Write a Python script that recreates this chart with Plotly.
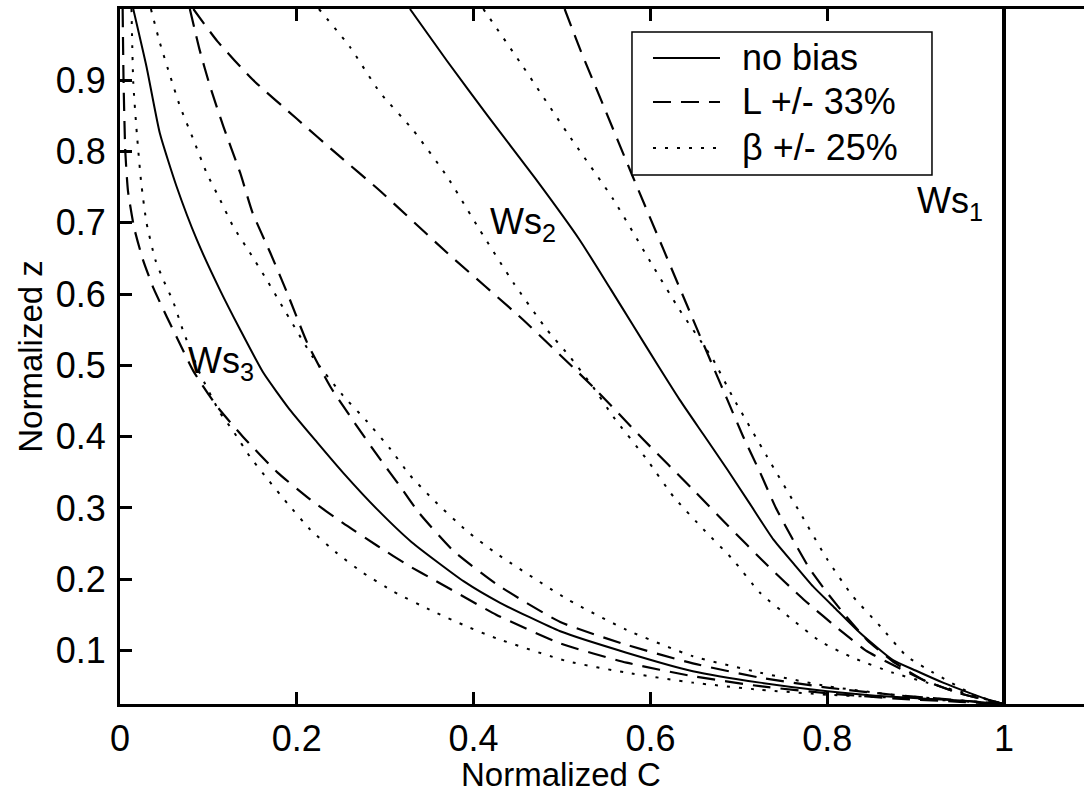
import plotly.graph_objects as go

# ---------------- data ----------------
# Ws1 : all variants coincide on C = 1
ws1_c = [1.0, 1.0]
ws1_z = [0.025, 1.0]

# Ws2
ws2_nobias_c = [0.328, 0.37, 0.416, 0.47, 0.52, 0.555, 0.58, 0.61, 0.633, 0.66, 0.687, 0.713, 0.739, 0.762, 0.784, 0.81, 0.837, 0.874, 0.90, 0.931, 0.96, 0.98, 1.0]
ws2_nobias_z = [1.0, 0.927, 0.85, 0.762, 0.676, 0.607, 0.557, 0.497, 0.452, 0.403, 0.354, 0.305, 0.256, 0.222, 0.19, 0.158, 0.125, 0.087, 0.072, 0.055, 0.041, 0.032, 0.025]

ws2_Lp_c = [0.503, 0.52, 0.545, 0.580, 0.615, 0.648, 0.671, 0.687, 0.705, 0.724, 0.742, 0.761, 0.780, 0.800, 0.82, 0.845, 0.874, 0.91, 0.95, 1.0]
ws2_Lp_z = [1.0, 0.945, 0.87, 0.765, 0.662, 0.565, 0.498, 0.452, 0.40, 0.350, 0.30, 0.256, 0.215, 0.181, 0.150, 0.115, 0.085, 0.058, 0.040, 0.025]

ws2_Lm_c = [0.083, 0.110, 0.150, 0.200, 0.245, 0.294, 0.370, 0.456, 0.535, 0.592, 0.648, 0.687, 0.732, 0.773, 0.818, 0.845, 0.874, 0.91, 0.95, 1.0]
ws2_Lm_z = [1.0, 0.955, 0.901, 0.846, 0.797, 0.745, 0.658, 0.564, 0.470, 0.396, 0.326, 0.276, 0.220, 0.172, 0.125, 0.099, 0.080, 0.058, 0.040, 0.025]

ws2_bp_c = [0.411, 0.456, 0.506, 0.558, 0.603, 0.633, 0.671, 0.693, 0.732, 0.769, 0.800, 0.829, 0.860, 0.890, 0.920, 0.969, 1.0]
ws2_bp_z = [1.0, 0.919, 0.826, 0.733, 0.639, 0.578, 0.508, 0.456, 0.372, 0.294, 0.228, 0.176, 0.134, 0.092, 0.069, 0.036, 0.025]

ws2_bm_c = [0.225, 0.260, 0.294, 0.331, 0.370, 0.407, 0.445, 0.483, 0.509, 0.535, 0.558, 0.596, 0.626, 0.660, 0.693, 0.724, 0.761, 0.792, 0.829, 0.874, 0.913, 0.969, 1.0]
ws2_bm_z = [1.0, 0.947, 0.883, 0.831, 0.765, 0.690, 0.616, 0.550, 0.512, 0.470, 0.428, 0.368, 0.316, 0.270, 0.228, 0.181, 0.143, 0.113, 0.090, 0.069, 0.055, 0.036, 0.025]

# Ws3
ws3_nobias_c = [0.015, 0.030, 0.045, 0.064, 0.087, 0.113, 0.136, 0.162, 0.192, 0.223, 0.252, 0.291, 0.33, 0.389, 0.43, 0.498, 0.573, 0.648, 0.724, 0.800, 0.874, 0.950, 1.0]
ws3_nobias_z = [1.0, 0.919, 0.826, 0.751, 0.676, 0.606, 0.550, 0.490, 0.438, 0.392, 0.350, 0.298, 0.252, 0.197, 0.167, 0.127, 0.097, 0.071, 0.055, 0.043, 0.035, 0.030, 0.025]

ws3_Lp_c = [0.079, 0.090, 0.102, 0.117, 0.136, 0.150, 0.170, 0.189, 0.212, 0.238, 0.264, 0.291, 0.317, 0.339, 0.377, 0.426, 0.498, 0.573, 0.648, 0.724, 0.800, 0.874, 0.950, 1.0]
ws3_Lp_z = [1.0, 0.943, 0.891, 0.835, 0.770, 0.714, 0.658, 0.602, 0.531, 0.470, 0.422, 0.374, 0.330, 0.292, 0.240, 0.193, 0.140, 0.108, 0.082, 0.062, 0.048, 0.038, 0.030, 0.025]

ws3_Lm_c = [0.003, 0.004, 0.006, 0.009, 0.016, 0.026, 0.038, 0.053, 0.064, 0.083, 0.110, 0.139, 0.178, 0.215, 0.252, 0.291, 0.328, 0.354, 0.426, 0.498, 0.573, 0.648, 0.724, 0.800, 0.874, 0.950, 1.0]
ws3_Lm_z = [1.0, 0.9, 0.8, 0.745, 0.693, 0.648, 0.608, 0.568, 0.540, 0.492, 0.442, 0.400, 0.350, 0.312, 0.279, 0.247, 0.218, 0.200, 0.150, 0.110, 0.083, 0.064, 0.050, 0.040, 0.033, 0.028, 0.025]

ws3_bp_c = [0.035, 0.045, 0.057, 0.068, 0.083, 0.098, 0.113, 0.128, 0.147, 0.166, 0.184, 0.218, 0.252, 0.279, 0.305, 0.328, 0.354, 0.392, 0.426, 0.506, 0.573, 0.648, 0.724, 0.800, 0.874, 0.950, 1.0]
ws3_bp_z = [1.0, 0.953, 0.905, 0.863, 0.817, 0.770, 0.733, 0.695, 0.658, 0.620, 0.582, 0.512, 0.458, 0.422, 0.384, 0.346, 0.312, 0.268, 0.236, 0.172, 0.129, 0.092, 0.069, 0.050, 0.038, 0.030, 0.025]

ws3_bm_c = [0.013, 0.015, 0.019, 0.024, 0.030, 0.040, 0.049, 0.060, 0.071, 0.090, 0.113, 0.128, 0.147, 0.166, 0.189, 0.215, 0.245, 0.275, 0.309, 0.354, 0.392, 0.426, 0.506, 0.573, 0.648, 0.724, 0.800, 0.874, 0.950, 1.0]
ws3_bm_z = [1.0, 0.897, 0.826, 0.756, 0.700, 0.648, 0.620, 0.590, 0.550, 0.490, 0.434, 0.408, 0.372, 0.342, 0.307, 0.270, 0.237, 0.209, 0.183, 0.155, 0.134, 0.117, 0.085, 0.069, 0.055, 0.045, 0.038, 0.034, 0.029, 0.025]

legend_names = ["no bias", "L +/- 33%", "\u03b2 +/- 25%"]
legend_styles = ["solid", "dash", "dot"]
x_ticks = [0, 0.2, 0.4, 0.6, 0.8, 1]
x_ticklabels = ["0", "0.2", "0.4", "0.6", "0.8", "1"]
y_ticks = [0.1, 0.2, 0.3, 0.4, 0.5, 0.6, 0.7, 0.8, 0.9]
y_ticklabels = ["0.1", "0.2", "0.3", "0.4", "0.5", "0.6", "0.7", "0.8", "0.9"]
x_title = "Normalized C"
y_title = "Normalized z"

labels = [("Ws<sub>1</sub>", 0.899, 0.728), ("Ws<sub>2</sub>", 0.4165, 0.699), ("Ws<sub>3</sub>", 0.075, 0.503)]

# ---------------- figure ----------------
FONT = "Liberation Sans, Arial, Helvetica, sans-serif"
styles = {
    "solid": dict(color="black", width=2, dash="solid", shape="spline", smoothing=0.5),
    "dash": dict(color="black", width=2.2, dash="18px,10px", shape="spline", smoothing=0.5),
    "dot": dict(color="black", width=2, dash="3px,9px", shape="spline", smoothing=0.5),
}
style_of = dict(zip(legend_names, legend_styles))

fig = go.Figure()

def add(c, z, name, width=None):
    line = dict(styles[style_of[name]])
    if width is not None:
        line["width"] = width
    fig.add_trace(go.Scatter(x=c, y=z, mode="lines", line=line, name=name,
                             legendgroup=name, showlegend=False, hoverinfo="skip"))

add(ws2_nobias_c, ws2_nobias_z, legend_names[0])
add(ws2_Lp_c, ws2_Lp_z, legend_names[1])
add(ws2_bp_c, ws2_bp_z, legend_names[2])
add(ws2_Lm_c, ws2_Lm_z, legend_names[1])
add(ws2_bm_c, ws2_bm_z, legend_names[2])
add(ws3_nobias_c, ws3_nobias_z, legend_names[0])
add(ws3_Lp_c, ws3_Lp_z, legend_names[1])
add(ws3_Lm_c, ws3_Lm_z, legend_names[1])
add(ws3_bp_c, ws3_bp_z, legend_names[2])
add(ws3_bm_c, ws3_bm_z, legend_names[2])
add(ws1_c, ws1_z, legend_names[1])
add(ws1_c, ws1_z, legend_names[2])
add(ws1_c, ws1_z, legend_names[0], width=4)

for txt, xc, yc in labels:
    fig.add_annotation(x=xc, y=yc, xref="x", yref="y", text=txt, showarrow=False,
                       xanchor="left", yanchor="middle", font=dict(family=FONT, size=36, color="black"))

# legend box (MATLAB style: sample line + text inside a framed box), paper coordinates
LEG_X0, LEG_X1, LEG_Y0, LEG_Y1 = 0.5311, 0.8423, 0.7612, 0.9669
LEG_ROWS = [0.9295, 0.8662, 0.8000]
LEG_LINE_X0, LEG_LINE_X1, LEG_TEXT_X = 0.5529, 0.6224, 0.6432
fig.add_shape(type="rect", xref="paper", yref="paper", x0=LEG_X0, x1=LEG_X1, y0=LEG_Y0, y1=LEG_Y1,
              line=dict(color="black", width=1.5), fillcolor="white", layer="above")
for name, ry in zip(legend_names, LEG_ROWS):
    st = styles[style_of[name]]
    fig.add_shape(type="line", xref="paper", yref="paper", x0=LEG_LINE_X0, x1=LEG_LINE_X1, y0=ry, y1=ry,
                  line=dict(color="black", width=st["width"], dash=st["dash"]), layer="above")
    fig.add_annotation(x=LEG_TEXT_X, y=ry, xref="paper", yref="paper", text=name, showarrow=False,
                       xanchor="left", yanchor="middle", font=dict(family=FONT, size=36, color="black"))

# x-axis label (placed as in the reference, left of the axes centre)
fig.add_annotation(x=0.4575, y=-0.102, xref="paper", yref="paper", text=x_title, showarrow=False,
                   xanchor="center", yanchor="middle", font=dict(family=FONT, size=33, color="black"))

fig.update_layout(
    width=1084, height=804,
    margin=dict(l=120, r=0, t=9, b=100),
    paper_bgcolor="white", plot_bgcolor="white",
    font=dict(family=FONT, color="black"),
    showlegend=False,
)
fig.update_xaxes(range=[0, 1.0905], tickvals=x_ticks, ticktext=x_ticklabels,
                 ticks="inside", ticklen=12, tickwidth=2.5, tickcolor="black",
                 showline=True, linewidth=3, linecolor="black", mirror="ticks",
                 showgrid=False, zeroline=False, ticklabelstandoff=1,
                 tickfont=dict(family=FONT, size=36, color="black"))
fig.update_yaxes(range=[0.025, 1.0], tickvals=y_ticks, ticktext=y_ticklabels,
                 ticks="inside", ticklen=12, tickwidth=2.5, tickcolor="black",
                 showline=True, linewidth=3, linecolor="black", mirror=False,
                 showgrid=False, zeroline=False, ticklabelstandoff=4,
                 tickfont=dict(family=FONT, size=36, color="black"),
                 title=dict(text=y_title, font=dict(family=FONT, size=33, color="black"), standoff=4))

fig.write_html("out.html")
